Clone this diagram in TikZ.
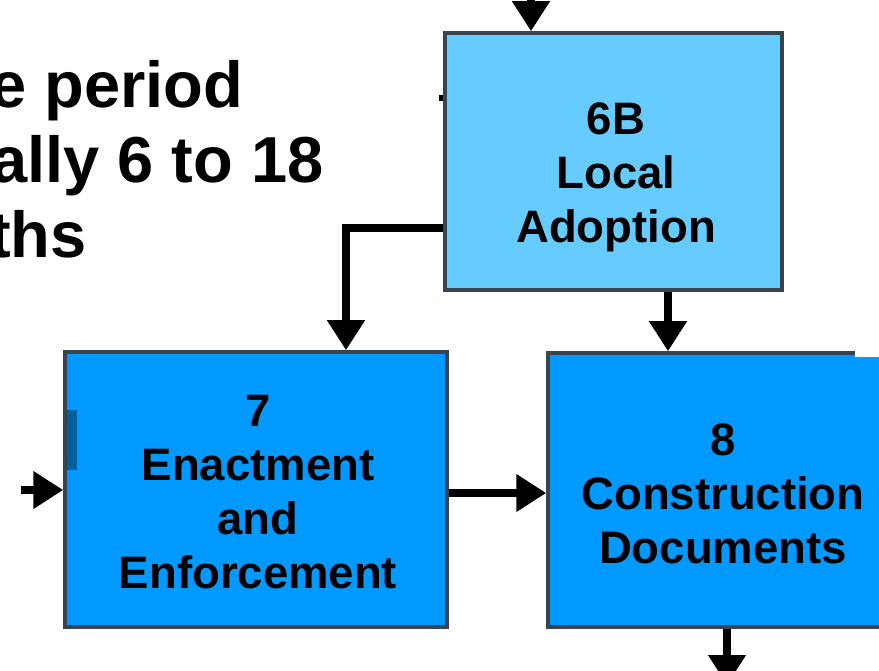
\documentclass[tikz,border=0pt]{standalone}
\usepackage{fontspec}
\setmainfont{Liberation Sans}
\usetikzlibrary{arrows.meta,calc}
\definecolor{lightbox}{HTML}{66CCFF}
\definecolor{darkbox}{HTML}{0099FF}
\definecolor{boxedge}{HTML}{3A444E}
\definecolor{tabblue}{HTML}{00609F}
\begin{document}
\begin{tikzpicture}[x=1pt,y=-1pt,
  box/.style={draw=boxedge, line width=3.5pt, inner sep=0pt},
  boxtext/.style={font=\fontsize{45.5}{54}\selectfont\bfseries, align=center, inner sep=0pt},
  headtext/.style={font=\fontsize{65}{75}\selectfont\bfseries, anchor=base west, inner sep=0pt},
  flow/.style={line width=7.5pt, -{Triangle[length=30pt,width=36pt]}},
  stub/.style={line width=6.5pt}]
\useasboundingbox (0,0) rectangle (879,671);
\clip (0,0) rectangle (879,671);
\fill[white] (0,0) rectangle (879,671);

% heading text (cut at the left edge, as in the reference)
\node[headtext] (h1) at (-10,108) {e period};
\node[headtext] (h2) at (-9,183) {ally 6 to 18};
\node[headtext] (h3) at (-11,258) {ths};

% boxes
\node[box, fill=lightbox, minimum width=337pt, minimum height=257pt] (b6) at (613.5,161.5) {};
\node[box, fill=darkbox, minimum width=382pt, minimum height=275pt] (b7) at (256,489.5) {};
\node[box, fill=darkbox, minimum width=349pt, minimum height=274pt] (b8) at (722.5,490) {};
\fill[white] (855,345) rectangle (880,357.5);
\fill[tabblue] (66.5,410) rectangle (77,470);

% box texts
\node[boxtext] (t6) at (616,177.8) {6B\\Local\\Adoption};
\node[boxtext] (t7) at (258,492.5) {7\\Enactment\\and\\Enforcement};
\node[boxtext] (t8) at (723,493.5) {8\\Construction\\Documents};

% connectors
\coordinate (topin) at (531,-30);
\coordinate (stubA) at (439,98);
\coordinate (x668) at (668,0);
\coordinate (leftin) at (21,490);
\coordinate (botout) at (727,685);

\draw[flow] (topin) -- (topin |- b6.north);
\draw[stub] (stubA) -- (stubA -| b6.west);
\draw[flow] ($(b6.west)+(0,66.5)$) -| ($(b7.north)+(90,0)$);
\draw[flow] (b6.south -| x668) -- (b8.north -| x668);
\draw[flow] ($(b7.east)+(0,3.5)$) -- ($(b8.west)+(0,3)$);
\draw[flow] (leftin) -- (leftin -| b7.west);
\draw[flow] (b8.south -| botout) -- (botout);
\end{tikzpicture}
\end{document}
